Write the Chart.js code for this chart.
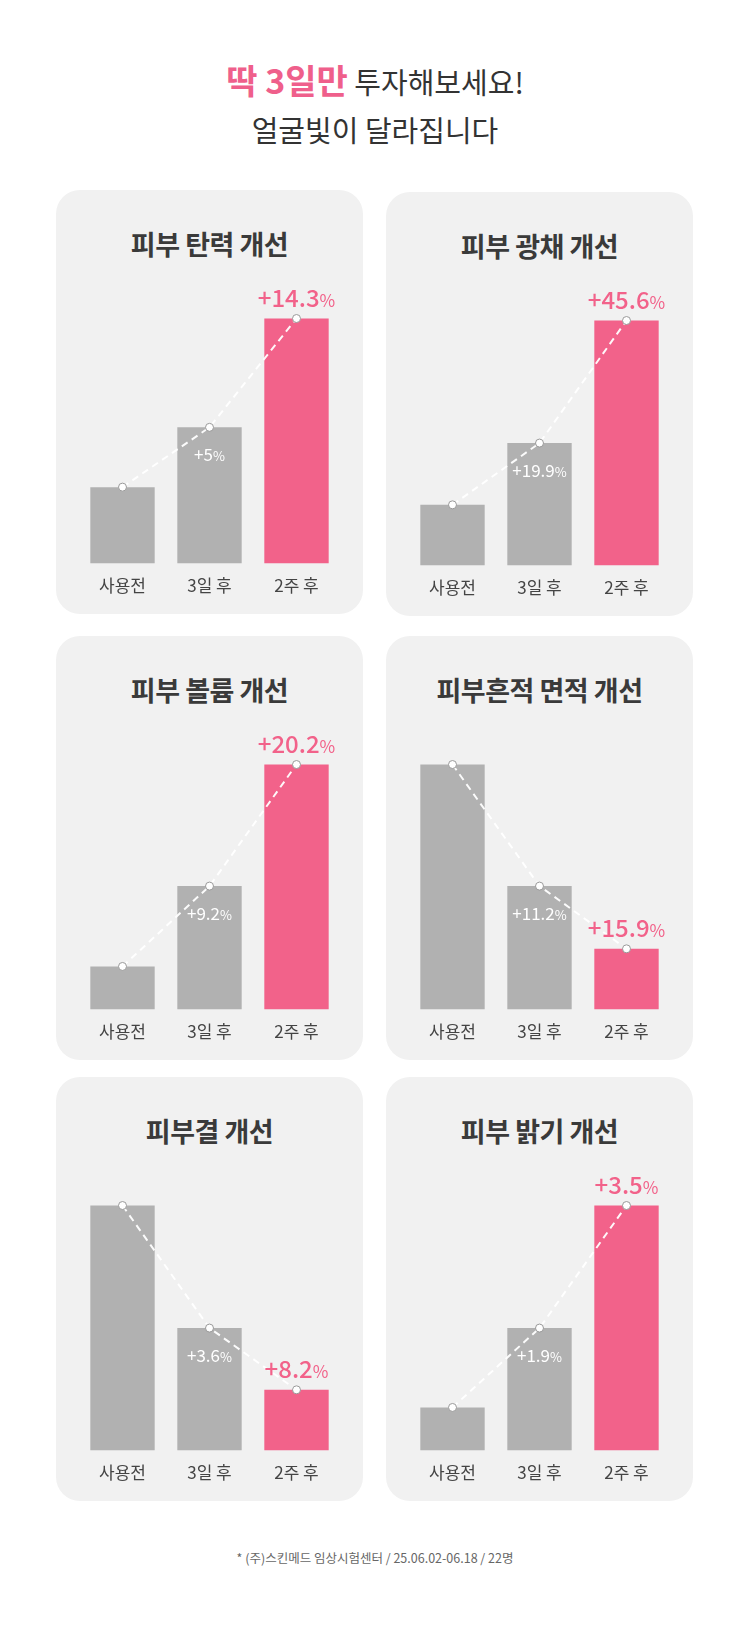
<!DOCTYPE html>
<html><head><meta charset="utf-8">
<script src="https://cdn.jsdelivr.net/npm/chart.js@4"></script>
<style>
body{margin:0;background:#fff;font-family:"Noto Sans CJK KR","Noto Sans",sans-serif;}
#wrap{position:relative;width:750px;height:1650px;}
.head{position:absolute;left:0;width:750px;text-align:center;color:#333;}
.panel{position:absolute;width:307px;height:424px;background:#f1f1f1;border-radius:24px;}
.panel h2{margin:0;position:absolute;top:34px;width:100%;text-align:center;font-size:27px;font-weight:700;color:#3a3a3a;letter-spacing:-0.5px;}
.panel .box{position:absolute;left:18px;top:100px;width:271px;height:310px;}
.foot{position:absolute;top:1548px;width:750px;text-align:center;font-size:12.5px;color:#666;}
</style></head><body>
<div id="wrap">
<div class="head" style="top:55px;font-size:29px;"><span style="color:#ef5f8b;font-weight:700;font-size:34px;">딱 3일만</span> 투자해보세요!</div>
<div class="head" style="top:108px;font-size:29px;">얼굴빛이 달라집니다</div>
<div id="panels"></div>
<div class="foot">* (주)스킨메드 임상시험센터 / 25.06.02-06.18 / 22명</div>
</div>
<script>
const categories = ["사용전", "3일 후", "2주 후"];
const titles = ["피부 탄력 개선", "피부 광채 개선", "피부 볼륨 개선", "피부흔적 면적 개선", "피부결 개선", "피부 밝기 개선"];
const values = [
  [78, 139, 250],
  [62, 125, 250],
  [44, 126, 250],
  [250, 126, 62],
  [250, 125, 62],
  [44, 125, 250]
];
const changeLabels = [
  ["", "+5", "+14.3"],
  ["", "+19.9", "+45.6"],
  ["", "+9.2", "+20.2"],
  ["", "+11.2", "+15.9"],
  ["", "+3.6", "+8.2"],
  ["", "+1.9", "+3.5"]
];

const GRAY = '#b1b1b1', PINK = '#f2628a';
const spots = [[56,190],[386,192],[56,636],[386,636],[56,1077],[386,1077]];

const labelPlugin = {
  id: 'changeLabels',
  afterDatasetsDraw(chart) {
    const ctx = chart.ctx;
    const meta = chart.getDatasetMeta(1);
    const texts = chart.options.plugins.changeLabels.texts;
    meta.data.forEach((pt, i) => {
      const t = texts[i];
      if (!t) return;
      const big = i === 2;
      const f1 = big ? 24 : 17, f2 = big ? 17 : 13;
      ctx.save();
      ctx.fillStyle = big ? PINK : '#fff';
      ctx.textBaseline = 'alphabetic';
      ctx.font = `${big ? 500 : 400} ${f1}px "Noto Sans CJK KR"`;
      const w1 = ctx.measureText(t).width;
      ctx.font = `${f2}px "Noto Sans CJK KR"`;
      const w2 = ctx.measureText('%').width;
      const x0 = pt.x - (w1 + w2) / 2;
      const y = big ? pt.y - 12 : pt.y + 34;
      ctx.font = `${big ? 500 : 400} ${f1}px "Noto Sans CJK KR"`;
      ctx.fillText(t, x0, y);
      ctx.font = `${f2}px "Noto Sans CJK KR"`;
      ctx.fillText('%', x0 + w1, y);
      ctx.restore();
    });
  }
};

values.forEach((vals, k) => {
  const p = document.createElement('div');
  p.className = 'panel';
  p.style.left = spots[k][0] + 'px';
  p.style.top = spots[k][1] + 'px';
  p.innerHTML = `<h2>${titles[k]}</h2><div class="box"><canvas></canvas></div>`;
  document.getElementById('panels').appendChild(p);
  new Chart(p.querySelector('canvas'), {
    data: {
      labels: categories,
      datasets: [
        {
          type: 'bar', data: vals, order: 2,
          backgroundColor: [GRAY, GRAY, PINK],
          barPercentage: 0.74, categoryPercentage: 1
        },
        {
          type: 'line', data: vals, order: 1,
          borderColor: 'rgba(255,255,255,0.95)', borderWidth: 2, borderDash: [7, 5],
          pointRadius: 4, pointBackgroundColor: '#fff', pointBorderColor: '#999', pointBorderWidth: 1
        }
      ]
    },
    options: {
      responsive: true, maintainAspectRatio: false, animation: false,
      layout: { padding: { top: 0, left: 0, right: 0 } },
      plugins: { legend: { display: false }, tooltip: { enabled: false }, changeLabels: { texts: changeLabels[k] } },
      scales: {
        x: { grid: { display: false }, border: { display: false },
             ticks: { color: '#444', font: { size: 17, family: 'Noto Sans CJK KR' }, padding: 4 } },
        y: { display: false, min: 0, max: 274 }
      }
    },
    plugins: [labelPlugin]
  });
});
</script>
</body></html>
